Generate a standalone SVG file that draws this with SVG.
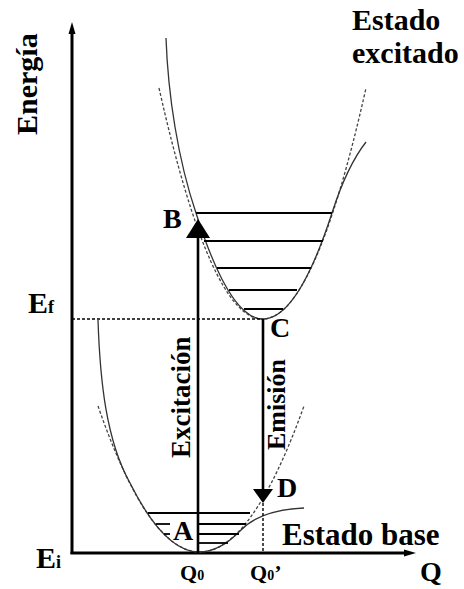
<svg xmlns="http://www.w3.org/2000/svg" width="464" height="589" viewBox="0 0 464 589">
<style>
text{font-family:"Liberation Serif","Times New Roman",serif;font-weight:bold;fill:#000}
.curve{fill:none;stroke:#333;stroke-width:1.3}
.dash{fill:none;stroke:#444;stroke-width:1.3;stroke-dasharray:3 2}
.lvl{stroke:#000;stroke-width:1.8}
.axis{stroke:#000;stroke-width:3;fill:none}
.arr{stroke:#000;stroke-width:2.6;fill:none}
.dot{stroke:#000;stroke-width:1.4;stroke-dasharray:3 2;fill:none}
</style>
<rect width="464" height="589" fill="#fff"/>
<g id="axes">
<line class="axis" x1="72" y1="30" x2="72" y2="554"/>
<polygon points="72,22 68.5,34 75.5,34" fill="#000"/>
<line class="axis" x1="70.5" y1="553" x2="408" y2="553"/>
<polygon points="416,553 404,549.5 404,556.5" fill="#000"/>
<text transform="translate(37,135) rotate(-90)" font-size="30">Energía</text>
<text x="420" y="581" font-size="28">Q</text>
<text x="28" y="313" font-size="30">E<tspan font-size="18">f</tspan></text>
<text x="36" y="568" font-size="30">E<tspan font-size="18">i</tspan></text>
<text x="180" y="580" font-size="22">Q<tspan font-size="14">0</tspan></text>
<text x="250" y="580" font-size="22">Q<tspan font-size="14">0</tspan>’</text>
</g>
<g id="excited-state">
<path class="dash" d="M159,88 Q262.5,550 366,88"/>
<path class="curve" d="M166,38 C168,95 178,160 196,213 Q229.5,319 263,319 Q297.5,319 332,213 C340,188 352,160 366,142"/>
<line class="lvl" x1="196" y1="213" x2="332" y2="213"/>
<line class="lvl" x1="204" y1="241" x2="323" y2="241"/>
<line class="lvl" x1="217" y1="268" x2="311" y2="268"/>
<line class="lvl" x1="229" y1="290" x2="297" y2="290"/>
<line class="lvl" x1="244" y1="309" x2="283" y2="309"/>
<text x="352" y="30" font-size="30">Estado</text>
<text x="352" y="63" font-size="30">excitado</text>
</g>
<g id="ground-state">
<path class="dash" d="M98,406 Q199,698 304,406"/>
<path class="curve" d="M98,320 C100,380 106,440 130,483 Q164.5,552 199,552 Q219.5,552 240,531 C255,515 280,509 304,508"/>
<line class="lvl" x1="148" y1="513" x2="250" y2="513"/>
<line class="lvl" x1="156" y1="524" x2="170" y2="524"/>
<line class="lvl" x1="198" y1="524" x2="246" y2="524"/>
<line class="lvl" x1="164" y1="534" x2="170" y2="534"/>
<line class="lvl" x1="198" y1="534" x2="239" y2="534"/>
<line class="lvl" x1="198" y1="543" x2="228" y2="543"/>
<text x="282" y="545" font-size="31">Estado base</text>
</g>
<g id="connectors">
<line class="dot" x1="72" y1="319" x2="262" y2="319"/>
<line class="dot" x1="263" y1="503" x2="263" y2="553"/>
<line class="arr" x1="198" y1="553" x2="198" y2="236"/>
<polygon points="198,219 186,238 210,238" fill="#000"/>
<line class="arr" x1="263" y1="319" x2="263" y2="491"/>
<polygon points="263,503 253,489 273,489" fill="#000"/>
</g>
<g id="labels">
<text x="163" y="228" font-size="28">B</text>
<text x="270" y="337" font-size="28">C</text>
<text x="277" y="497" font-size="28">D</text>
<text x="173" y="540" font-size="28">A</text>
<text transform="translate(190,458) rotate(-90)" font-size="27">Excitación</text>
<text transform="translate(285,450) rotate(-90)" font-size="26">Emisión</text>
</g>
</svg>
